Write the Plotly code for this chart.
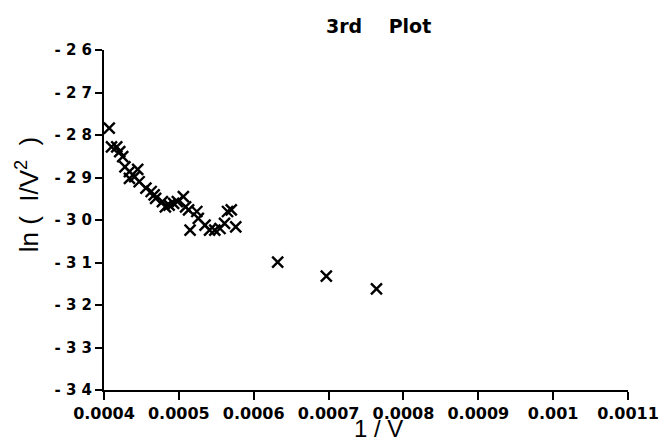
import plotly.graph_objects as go

inv_v = [0.000407, 0.000410, 0.000417, 0.000421, 0.000425, 0.000428, 0.000434, 0.000445,
         0.000434, 0.000441, 0.000447, 0.000456, 0.000463, 0.000467, 0.000469, 0.000478,
         0.000482, 0.000487, 0.000493, 0.000498, 0.000506, 0.000509, 0.000513, 0.000524,
         0.000526, 0.000515, 0.000535, 0.000541, 0.000548, 0.000555, 0.000561, 0.000565,
         0.000570, 0.000576, 0.000632, 0.000697, 0.000764]
ln_iv2 = [-27.84, -28.28, -28.28, -28.39, -28.51, -28.75, -28.86, -28.81,
          -29.02, -28.98, -29.10, -29.25, -29.33, -29.41, -29.49, -29.57,
          -29.69, -29.65, -29.61, -29.57, -29.45, -29.69, -29.76, -29.80,
          -29.96, -30.24, -30.12, -30.24, -30.24, -30.20, -30.08, -29.80,
          -29.76, -30.16, -30.99, -31.32, -31.62]

x_ticks = [0.0004, 0.0005, 0.0006, 0.0007, 0.0008, 0.0009, 0.001, 0.0011]
x_labels = ["0.0004", "0.0005", "0.0006", "0.0007", "0.0008", "0.0009", "0.001", "0.0011"]
y_ticks = [-26, -27, -28, -29, -30, -31, -32, -33, -34]
y_labels = ["- 2 6", "- 2 7", "- 2 8", "- 2 9", "- 3 0", "- 3 1", "- 3 2", "- 3 3", "- 3 4"]

title_text = "3rd\u00a0\u00a0\u00a0\u00a0Plot"
x_title = "1 / V"
y_title = "ln\u00a0(\u00a0\u00a0I/V<sup>2</sup>\u00a0\u00a0)"

bold_font = "DejaVu Sans, Liberation Sans, sans-serif"
reg_font = "Liberation Sans, Arial, sans-serif"

fig = go.Figure()
fig.add_trace(go.Scatter(
    x=inv_v, y=ln_iv2, mode="markers",
    marker=dict(symbol="x-thin", size=11, line=dict(color="black", width=2.4), color="black"),
    showlegend=False,
))

fig.update_layout(
    width=671, height=442,
    margin=dict(l=104, r=34, t=50, b=52),
    paper_bgcolor="white", plot_bgcolor="white",
    xaxis=dict(
        range=[0.0004, 0.0011], tickvals=x_ticks, ticktext=x_labels,
        showgrid=False, zeroline=False, showline=True, linecolor="black", linewidth=2,
        ticks="outside", ticklen=8, tickwidth=2, tickcolor="black",
        tickfont=dict(family=bold_font, size=16, color="black", weight="bold"),
    ),
    yaxis=dict(
        range=[-34, -26], tickvals=y_ticks, ticktext=y_labels,
        showgrid=False, zeroline=False, showline=True, linecolor="black", linewidth=2,
        ticks="outside", ticklen=7, tickwidth=2, tickcolor="black",
        tickfont=dict(family=bold_font, size=15, color="black", weight="bold"),
    ),
    annotations=[
        dict(text=title_text, xref="paper", yref="paper", x=0.5235, y=1.072,
             xanchor="center", yanchor="middle", showarrow=False,
             font=dict(family=bold_font, size=19, color="black", weight="bold")),
        dict(text=x_title, xref="paper", yref="paper", x=0.524, y=-0.112,
             xanchor="center", yanchor="middle", showarrow=False,
             font=dict(family=reg_font, size=24, color="black")),
        dict(text=y_title, xref="paper", yref="paper", x=-0.1454, y=0.575,
             xanchor="center", yanchor="middle", showarrow=False, textangle=-90,
             font=dict(family=reg_font, size=26, color="black")),
    ],
)

fig.write_html("out.html")
